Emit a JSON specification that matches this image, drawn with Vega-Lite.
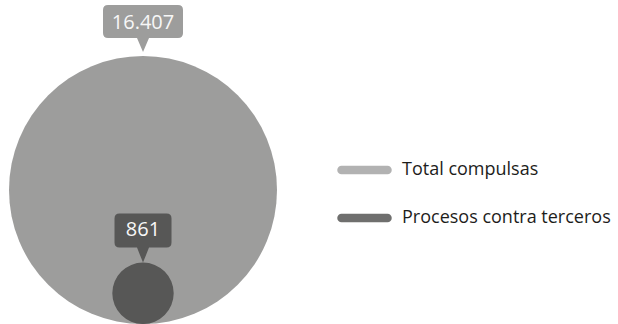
{
  "$schema": "https://vega.github.io/schema/vega-lite/v6.json",
  "width": 618,
  "height": 324,
  "autosize": "none",
  "padding": 0,
  "background": "white",
  "config": {"view": {"stroke": null}},
  "data": {"values": [
    {"categoria": "Total compulsas", "valor": 16407, "etiqueta": "16.407", "grupo": "Compulsas"},
    {"categoria": "Procesos contra terceros", "valor": 861, "etiqueta": "861", "grupo": "Compulsas"}
  ]},
  "layer": [
    {
      "mark": {"type": "circle", "opacity": 1},
      "encoding": {
        "x": {"field": "grupo", "type": "nominal", "axis": null, "scale": {"type": "point", "align": 0.2314}},
        "y": {"field": "valor", "type": "quantitative", "axis": null, "scale": {"type": "sqrt", "domain": [0, 95920], "nice": false, "zero": true}},
        "size": {"field": "valor", "type": "quantitative", "legend": null, "scale": {"type": "linear", "domain": [0, 16407], "range": [0, 71824], "zero": true, "nice": false}},
        "color": {
          "field": "categoria", "type": "nominal", "legend": null,
          "scale": {"domain": ["Total compulsas", "Procesos contra terceros"], "range": ["#9d9d9c", "#575756"]}
        }
      }
    },
    {
      "mark": {"type": "point", "filled": true, "opacity": 1, "strokeWidth": 0, "size": 6400},
      "encoding": {
        "x": {"field": "grupo", "type": "nominal", "axis": null, "scale": {"type": "point", "align": 0.2314}},
        "y": {"field": "valor", "type": "quantitative", "axis": null, "scale": {"type": "sqrt", "domain": [0, 23980], "nice": false, "zero": true}},
        "color": {"field": "categoria", "type": "nominal", "legend": null},
        "shape": {
          "field": "etiqueta", "type": "nominal", "legend": null,
          "scale": {
            "domain": ["16.407", "861"],
            "range": [
              "M0,-0.1 L-0.15,-0.45 L-0.875,-0.45 Q-1,-0.45 -1,-0.575 L-1,-1.15 Q-1,-1.275 -0.875,-1.275 L0.875,-1.275 Q1,-1.275 1,-1.15 L1,-0.575 Q1,-0.45 0.875,-0.45 L0.15,-0.45 Z",
              "M0,0 L-0.15,-0.375 L-0.5875,-0.375 Q-0.7125,-0.375 -0.7125,-0.5 L-0.7125,-1.1 Q-0.7125,-1.225 -0.5875,-1.225 L0.5875,-1.225 Q0.7125,-1.225 0.7125,-1.1 L0.7125,-0.5 Q0.7125,-0.375 0.5875,-0.375 L0.15,-0.375 Z"
            ]
          }
        }
      }
    },
    {
      "mark": {"type": "text", "font": "Open Sans", "fontSize": 20, "color": "#f7f7f7", "baseline": "middle", "align": "center", "dy": -33},
      "encoding": {
        "x": {"field": "grupo", "type": "nominal", "axis": null, "scale": {"type": "point", "align": 0.2314}},
        "y": {"field": "valor", "type": "quantitative", "axis": null, "scale": {"type": "sqrt", "domain": [0, 23980], "nice": false, "zero": true}},
        "text": {"field": "etiqueta", "type": "nominal"}
      }
    },
    {
      "mark": {"type": "point", "shape": "stroke", "filled": false, "size": 2116, "strokeWidth": 8.5, "strokeCap": "round", "opacity": 1},
      "encoding": {
        "x": {"field": "grupo", "type": "nominal", "axis": null, "scale": {"type": "point", "align": 0.5898}},
        "y": {"field": "categoria", "type": "nominal", "axis": null, "scale": {"type": "point", "domain": ["Total compulsas", "Procesos contra terceros"], "range": [170, 218], "padding": 0}},
        "stroke": {"condition": {"test": "datum.categoria === 'Total compulsas'", "value": "#b2b2b2"}, "value": "#6f6f6e"}
      }
    },
    {
      "mark": {"type": "text", "font": "Open Sans", "fontSize": 18, "color": "#1d1d1b", "baseline": "middle", "align": "left", "dx": 37.5},
      "encoding": {
        "x": {"field": "grupo", "type": "nominal", "axis": null, "scale": {"type": "point", "align": 0.5898}},
        "y": {"field": "categoria", "type": "nominal", "axis": null, "scale": {"type": "point", "domain": ["Total compulsas", "Procesos contra terceros"], "range": [170, 218], "padding": 0}},
        "text": {"field": "categoria", "type": "nominal"}
      }
    }
  ],
  "resolve": {"scale": {"x": "independent", "y": "independent"}}
}
